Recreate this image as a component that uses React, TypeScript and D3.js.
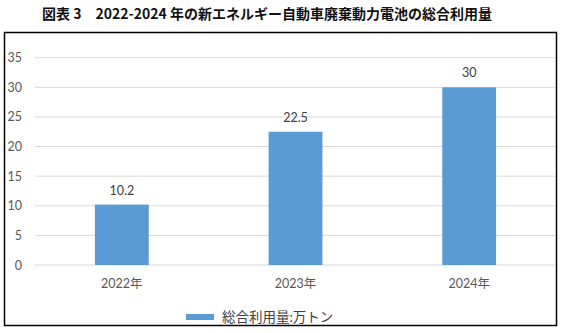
import React from "react";
import * as d3 from "d3";

const categories = ["2022年", "2023年", "2024年"];
const values = [10.2, 22.5, 30];
const yTicks = [0, 5, 10, 15, 20, 25, 30, 35];
const title = "図表 3　2022-2024 年の新エネルギー自動車廃棄動力電池の総合利用量";
const seriesName = "総合利用量:万トン";

const W = 565, H = 333;
const plot = { left: 35, right: 556, top: 57.7, bottom: 265 };
const font = "Lato, 'Noto Sans CJK JP', sans-serif";

export default function App() {
  const x = d3.scaleBand().domain(categories).range([plot.left, plot.right]).paddingInner(0.69).paddingOuter(0.345);
  const y = d3.scaleLinear().domain([0, 35]).range([plot.bottom, plot.top]);
  return (
    <svg width={W} height={H} style={{ position: "absolute", left: 0, top: 0, background: "#fff" }}>
      <text x={267} y={19} textAnchor="middle" fontFamily="'Noto Sans CJK JP', sans-serif" fontWeight="bold" fontSize={14} fill="#111">{title}</text>
      <rect x={4.5} y={32.5} width={552} height={293} fill="none" stroke="#000" strokeWidth={1.5} />
      {yTicks.map(t => (
        <g key={t}>
          <line x1={plot.left} x2={plot.right - 1} y1={y(t)} y2={y(t)} stroke="#d9d9d9" strokeWidth={1} />
          <text x={22} y={y(t) + 4.5} textAnchor="end" fontFamily={font} fontSize={12.5} fill="#595959">{t}</text>
        </g>
      ))}
      {categories.map((c, i) => (
        <g key={c}>
          <rect x={x(c)} y={y(values[i])} width={x.bandwidth()} height={y(0) - y(values[i])} fill="#5b9bd5" />
          <text x={x(c)! + x.bandwidth() / 2} y={y(values[i]) - 10} textAnchor="middle" fontFamily={font} fontSize={12.5} fill="#404040">{values[i]}</text>
          <text x={x(c)! + x.bandwidth() / 2} y={288} textAnchor="middle" fontFamily={font} fontSize={12.5} fill="#595959">{c}</text>
        </g>
      ))}
      <rect x={186} y={314} width={28} height={6} fill="#5b9bd5" />
      <text x={222} y={321.5} fontFamily={font} fontSize={13.5} fill="#404040">{seriesName}</text>
    </svg>
  );
}
